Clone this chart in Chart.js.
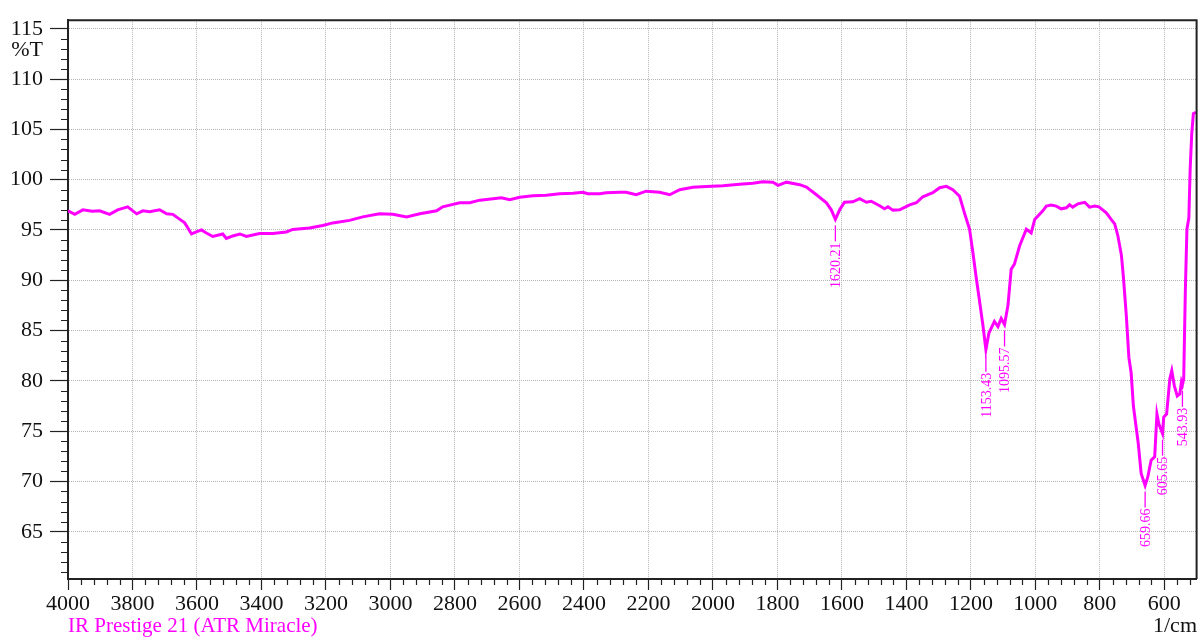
<!DOCTYPE html>
<html>
<head>
<meta charset="utf-8">
<title>IR spectrum</title>
<script src="https://cdn.jsdelivr.net/npm/chart.js@4.4.1/dist/chart.umd.min.js"></script>
<style>
  html, body { margin: 0; padding: 0; background: #fff; overflow: hidden; }
  canvas { display: block; }
</style>
</head>
<body>
<canvas id="spectrum" width="1201" height="637"></canvas>
<script>
// Wavenumber (1/cm), high to low
const wavenumbers = [
  4000, 3979, 3954, 3925, 3902, 3871, 3846, 3815, 3787, 3768, 3747, 3716, 3694, 3675, 3653, 3638,
  3617, 3602, 3586, 3571, 3551, 3520, 3509, 3489, 3467, 3447, 3406, 3365, 3323, 3303, 3251, 3210,
  3179, 3127, 3086, 3034, 2993, 2950, 2909, 2857, 2838, 2816, 2785, 2754, 2723, 2682, 2656, 2630,
  2599, 2558, 2517, 2475, 2434, 2403, 2388, 2351, 2331, 2289, 2269, 2238, 2207, 2165, 2134, 2103,
  2062, 2020, 1969, 1917, 1876, 1845, 1814, 1798, 1772, 1731, 1710, 1679, 1648, 1633, 1620.21, 1607,
  1592, 1566, 1545, 1524, 1509, 1483, 1468, 1457, 1442, 1421, 1390, 1369, 1349, 1318, 1297, 1276,
  1256, 1235, 1220, 1204, 1194, 1183, 1173, 1163, 1153.43, 1144, 1127, 1116, 1106, 1095.57, 1085, 1075,
  1065, 1049, 1028, 1013, 1002, 977, 966, 951, 935, 920, 904, 894, 884, 868, 847, 832,
  816, 803, 780, 765, 754, 744, 733, 727, 718, 710, 703, 696, 681, 672, 659.66, 651,
  641, 630, 623, 617, 605.65, 602, 593, 583, 577, 569, 560, 552, 547, 543.93, 540, 535,
  530, 524, 520, 515, 510, 502
];

// Transmittance (%T) at each wavenumber
const transmittance = [
  96.9, 96.55, 97.0, 96.85, 96.9, 96.55, 97.0, 97.3, 96.6, 96.9, 96.8, 97.0, 96.6, 96.55, 96.05, 95.7,
  94.6, 94.8, 95.0, 94.7, 94.35, 94.6, 94.15, 94.4, 94.6, 94.35, 94.65, 94.65, 94.8, 95.05, 95.2, 95.45,
  95.7, 95.95, 96.3, 96.6, 96.55, 96.3, 96.6, 96.9, 97.3, 97.47, 97.7, 97.7, 97.96, 98.1, 98.2, 98.0,
  98.25, 98.4, 98.45, 98.6, 98.65, 98.75, 98.6, 98.6, 98.7, 98.75, 98.75, 98.5, 98.85, 98.75, 98.5, 99.0,
  99.24, 99.33, 99.4, 99.55, 99.65, 99.8, 99.75, 99.43, 99.75, 99.5, 99.27, 98.5, 97.7, 97.0, 96.05, 97.0,
  97.75, 97.8, 98.1, 97.75, 97.85, 97.4, 97.1, 97.3, 96.97, 97.0, 97.5, 97.7, 98.3, 98.7, 99.2, 99.33,
  99.0, 98.35, 96.7, 95.07, 92.8, 90.15, 87.9, 85.6, 83.1, 84.75, 85.9, 85.4, 86.2, 85.6, 87.5, 91.1,
  91.6, 93.4, 95.07, 94.7, 96.05, 96.9, 97.37, 97.47, 97.37, 97.1, 97.2, 97.5, 97.27, 97.6, 97.75, 97.27,
  97.37, 97.3, 96.7, 96.05, 95.6, 94.4, 92.45, 90.3, 86.5, 82.3, 80.8, 77.5, 73.8, 70.8, 69.6, 70.5,
  72.1, 72.45, 76.7, 75.7, 74.75, 76.4, 76.7, 80.2, 81.0, 79.5, 78.5, 78.7, 79.9, 79.6, 80.2, 88.8,
  95.07, 96.2, 101.0, 104.6, 106.55, 106.7
];

// Picked absorption bands
const peakWavenumbers = [1620.21, 1153.43, 1095.57, 659.66, 605.65, 543.93];

// Labelled axis ticks
const xTickValues = [4000, 3800, 3600, 3400, 3200, 3000, 2800, 2600, 2400, 2200, 2000, 1800, 1600, 1400, 1200, 1000, 800, 600];
const yTickValues = [115, 110, 105, 100, 95, 90, 85, 80, 75, 70, 65];

const xMinorStep = 40;
const yMinorStep = 1;

const SERIF = '"Liberation Serif", "DejaVu Serif", serif';
const MAGENTA = '#ff00ff';

const points = wavenumbers.map((w, i) => ({ x: w, y: transmittance[i] }));
const peakValues = peakWavenumbers.map(w => transmittance[wavenumbers.indexOf(w)]);

const decorations = {
  id: 'decorations',
  afterDatasetsDraw(chart) {
    const { ctx, chartArea: a, scales: { x, y } } = chart;
    ctx.save();

    // closing frame: top and right edges
    ctx.strokeStyle = '#222';
    ctx.lineWidth = 2;
    ctx.beginPath();
    ctx.moveTo(a.left, a.top);
    ctx.lineTo(a.right, a.top);
    ctx.lineTo(a.right, a.bottom);
    ctx.stroke();

    // minor ticks
    ctx.lineWidth = 1.2;
    ctx.beginPath();
    for (let w = Math.ceil(x.min / xMinorStep) * xMinorStep; w < x.max; w += xMinorStep) {
      if (w % 200 === 0 || w <= x.min) continue;
      const px = Math.round(x.getPixelForValue(w)) + 0.5;
      ctx.moveTo(px, a.bottom);
      ctx.lineTo(px, a.bottom + 6);
    }
    for (let v = Math.ceil(y.min); v < y.max; v += yMinorStep) {
      if (v % 5 === 0) continue;
      const py = Math.round(y.getPixelForValue(v)) + 0.5;
      ctx.moveTo(a.left - 7, py);
      ctx.lineTo(a.left, py);
    }
    ctx.stroke();

    // band labels
    ctx.strokeStyle = MAGENTA;
    ctx.fillStyle = MAGENTA;
    ctx.lineWidth = 1.3;
    ctx.font = '14px ' + SERIF;
    peakWavenumbers.forEach((w, i) => {
      const px = x.getPixelForValue(w);
      const py = y.getPixelForValue(peakValues[i]);
      ctx.beginPath();
      ctx.moveTo(px, py + 6);
      ctx.lineTo(px, py + 22);
      ctx.stroke();
      ctx.save();
      ctx.translate(px + 1, py + 23);
      ctx.rotate(-Math.PI / 2);
      ctx.textAlign = 'right';
      ctx.textBaseline = 'middle';
      ctx.fillText(w.toFixed(2), 0, 0);
      ctx.restore();
    });

    // axis captions
    ctx.font = '22px ' + SERIF;
    ctx.fillStyle = '#111';
    ctx.textAlign = 'right';
    ctx.textBaseline = 'middle';
    ctx.fillText('%T', 43, 50);
    ctx.textBaseline = 'alphabetic';
    ctx.fillText('1/cm', 1197, 632);
    ctx.textAlign = 'left';
    ctx.fillStyle = MAGENTA;
    ctx.font = '21px ' + SERIF;
    ctx.fillText('IR Prestige 21 (ATR Miracle)', 68, 632);

    ctx.restore();
  }
};

new Chart(document.getElementById('spectrum'), {
  type: 'line',
  data: {
    datasets: [{
      data: points,
      borderColor: MAGENTA,
      borderWidth: 3,
      pointRadius: 0,
      tension: 0,
      fill: false
    }]
  },
  options: {
    responsive: false,
    animation: false,
    layout: { padding: { top: 15.5, right: 4.4, left: 0, bottom: 0 } },
    plugins: { legend: { display: false }, tooltip: { enabled: false } },
    scales: {
      x: {
        type: 'linear',
        reverse: true,
        min: 500,
        max: 4000,
        afterBuildTicks: s => { s.ticks = xTickValues.map(v => ({ value: v })); },
        afterFit: s => { s.height = 58; },
        grid: { color: '#b4b4b4', lineWidth: 1, tickLength: 11, tickColor: '#222', tickWidth: 1.2 },
        border: { display: true, color: '#222', width: 2, dash: [1, 1] },
        ticks: { color: '#111', font: { family: SERIF, size: 22 }, padding: 1, maxRotation: 0, autoSkip: false,
                 callback: v => String(v) }
      },
      y: {
        type: 'linear',
        min: 60.3,
        max: 115.85,
        afterBuildTicks: s => { s.ticks = yTickValues.map(v => ({ value: v })); },
        afterFit: s => { s.width = 68; },
        grid: { color: '#b4b4b4', lineWidth: 1, tickLength: 18, tickColor: '#222', tickWidth: 1.2 },
        border: { display: true, color: '#222', width: 2, dash: [1, 1] },
        ticks: { color: '#111', font: { family: SERIF, size: 22 }, padding: 7, autoSkip: false,
                 callback: v => String(v) }
      }
    }
  },
  plugins: [decorations]
});
</script>
</body>
</html>
